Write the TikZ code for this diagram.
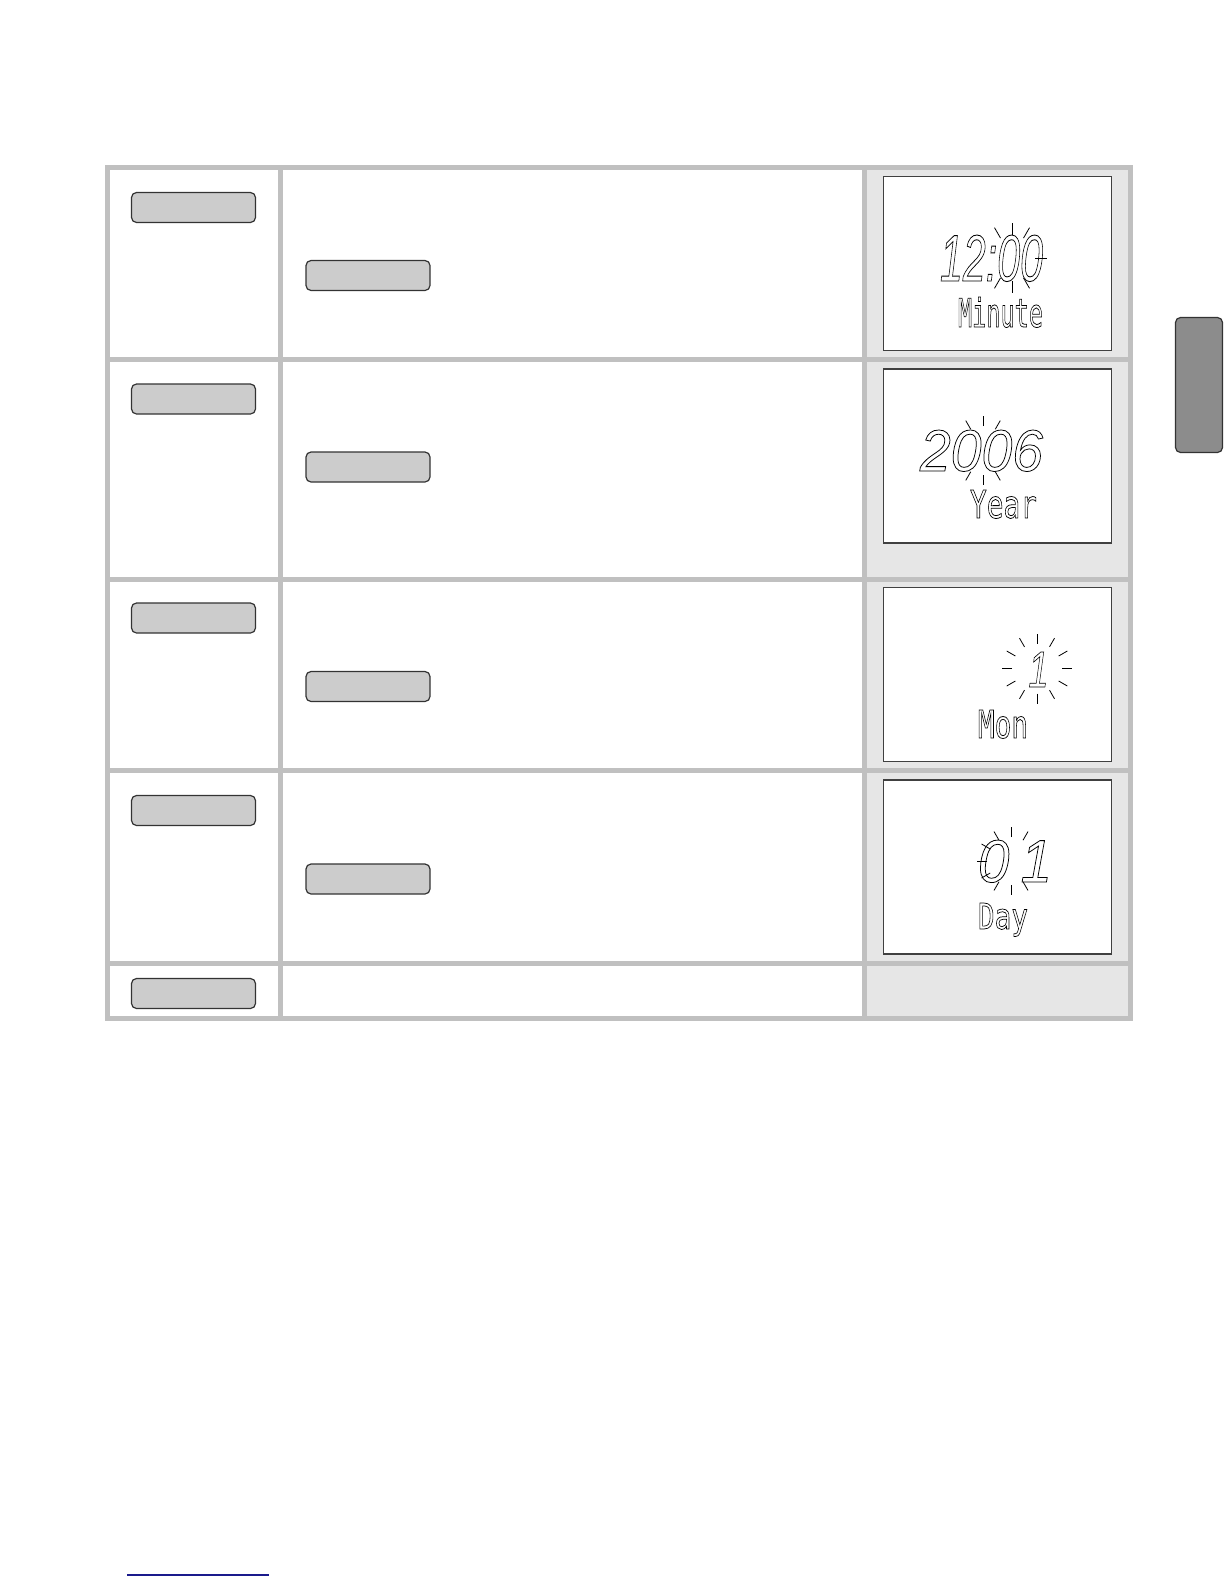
\documentclass[tikz,border=0pt]{standalone}
\usepackage{fontspec}
\usepackage{graphicx}
\usetikzlibrary{calc}

\newfontfamily\lcdnum{Liberation Sans}
\newfontfamily\lcdchar{DejaVu Sans Mono}
\definecolor{gridgray}{HTML}{C0C0C0}
\definecolor{cellgray}{HTML}{E6E6E6}
\definecolor{keygray}{HTML}{CCCCCC}
\definecolor{tabgray}{HTML}{8C8C8C}
\definecolor{linkblue}{HTML}{1A1A8C}

% outlined glyphs, like the segments of the display
\newcommand\hollow[1]{\special{pdf:literal direct 1 Tr 0.4 w}#1\special{pdf:literal direct 0 Tr}}
\newcommand\lcddigits[3]{\resizebox{#1}{#2}{\lcdnum\itshape\fontsize{30}{30}\selectfont\hollow{#3}}}
\newcommand\lcdword[3]{\resizebox{#1}{#2}{\lcdchar\fontsize{20}{20}\selectfont\hollow{#3}}}

\begin{document}
\begin{tikzpicture}[key/.style={draw=black!80, fill=keygray, rounded corners=2.5pt, minimum width=62pt, minimum height=15pt, inner sep=0pt, line width=0.6pt}, lcd/.style={draw=black!75, fill=white, minimum width=114pt, minimum height=87pt, inner sep=0pt, line width=0.6pt}, seg/.style={inner sep=0pt, anchor=base}, blink/.style={line width=0.4pt}]
  \useasboundingbox (0pt, 0pt) rectangle (612pt, -792pt);
  % table
  \fill[cellgray] (432pt, -83.75pt) rectangle (565.25pt, -509pt);
  \draw[gridgray, line width=2.5pt] (53.75pt, -83.75pt) rectangle (565.25pt, -509pt);
  \foreach \x in {140.25, 432} \draw[gridgray, line width=2.5pt] (\x pt, -83.75pt) -- (\x pt, -509pt);
  \foreach \y in {179.5, 289.5, 385, 481.75} \draw[gridgray, line width=2.5pt] (53.75pt, -\y pt) -- (565.25pt, -\y pt);
  % keys
  \draw (96.75pt, -103.75pt)node[key](k1){};
  \draw (184.0pt, -137.75pt)node[key](k1b){};
  \draw (96.75pt, -199.5pt)node[key](k2){};
  \draw (184.0pt, -233.5pt)node[key](k2b){};
  \draw (96.75pt, -309.0pt)node[key](k3){};
  \draw (184.0pt, -343.25pt)node[key](k3b){};
  \draw (96.75pt, -405.25pt)node[key](k4){};
  \draw (184.0pt, -439.5pt)node[key](k4b){};
  \draw (96.75pt, -496.75pt)node[key](k5){};
  % displays
  \draw (498.75pt, -131.75pt)node[lcd](lcd1){};
  \draw (498.75pt, -228.0pt)node[lcd](lcd2){};
  \draw (498.75pt, -337.25pt)node[lcd](lcd3){};
  \draw (498.75pt, -433.5pt)node[lcd](lcd4){};
  \draw (495.75pt, -140.5pt)node[seg](d1){\lcddigits{51.5pt}{23pt}{12:00}};
  \draw (500.25pt, -163.5pt)node[seg](w1){\lcdword{42.5pt}{15pt}{Minute}};
  \draw (490.75pt, -235.5pt)node[seg](d2){\lcddigits{61.5pt}{20.5pt}{2006}};
  \draw (501.75pt, -259.0pt)node[seg](w2){\lcdword{33.5pt}{14pt}{Year}};
  \draw (519.25pt, -343.5pt)node[seg](d3){\lcddigits{10pt}{17.5pt}{1}};
  \draw (501.5pt, -369.0pt)node[seg](w3){\lcdword{25pt}{14pt}{Mon}};
  \draw (507.5pt, -441.0pt)node[seg](d4){\lcddigits{37pt}{21pt}{0\hspace{6pt}1}};
  \draw (501.5pt, -464.5pt)node[seg](w4){\lcdword{25pt}{13pt}{Day}};
  % blinking marks
  \coordinate (c1) at (506pt, -129pt);
  \coordinate (c2) at (491.5pt, -225.25pt);
  \coordinate (c3) at (518.5pt, -334.25pt);
  \coordinate (c4) at (505.5pt, -430.5pt);
  \foreach \a in {0,60,90,120,240,270,300} \draw[blink] (c1) ++(\a:11.5pt) -- ++(\a:6pt);
  \foreach \a in {60,90,120,240,270,300} \draw[blink] (c2) ++(\a:12.25pt) -- ++(\a:5pt);
  \foreach \a in {0,30,...,330} \draw[blink] (c3) ++(\a:12.5pt) -- ++(\a:5pt);
  \foreach \a in {60,90,...,300} \draw[blink] (c4) ++(\a:12pt) -- ++(\a:5pt);
  % side tab and footer link
  \draw (599.5pt, -192.5pt)node[draw=black!80, fill=tabgray, rounded corners=2.5pt, minimum width=23.5pt, minimum height=67.5pt, line width=0.6pt](tab){};
  \coordinate (l1) at (63.5pt, -787.5pt);
  \coordinate (l2) at (134.5pt, -787.5pt);
  \draw[linkblue, line width=0.8pt] (l1) -- (l2);
\end{tikzpicture}
\end{document}
